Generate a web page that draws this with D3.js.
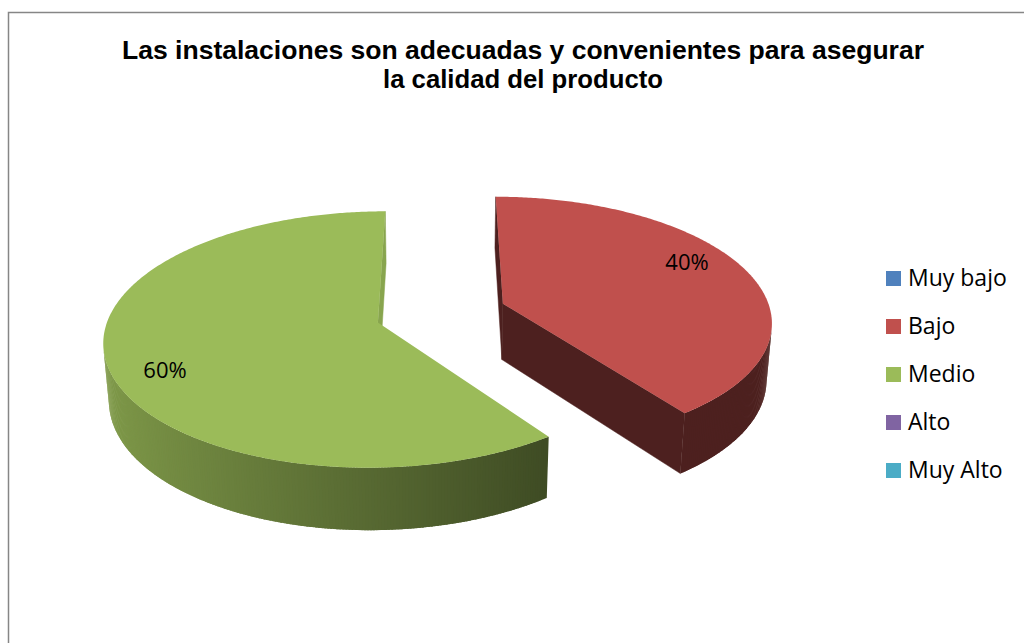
<!DOCTYPE html>
<html><head><meta charset="utf-8">
<script src="https://cdn.jsdelivr.net/npm/d3@7"></script>
<style>body{margin:0;background:#fff;} svg{display:block}</style>
</head><body><svg id="c" width="1024" height="643"></svg>
<script>
const titleLines = ["Las instalaciones son adecuadas y convenientes para asegurar", "la calidad del producto"];
const categories = ["Muy bajo", "Bajo", "Medio", "Alto", "Muy Alto"];
const values = [0, 40, 60, 0, 0];
const colors = ["#4f81bd", "#c0504d", "#9bbb59", "#8064a2", "#4bacc6"];

const svg = d3.select("#c");
svg.append("rect").attr("x", 8.5).attr("y", 12.5).attr("width", 1100).attr("height", 700)
  .attr("fill", "#fff").attr("stroke", "#868686").attr("stroke-width", 1.5);

// title
const titleW = [802, 280];
svg.selectAll("text.title").data(titleLines).enter().append("text")
  .attr("class", "title")
  .attr("x", 523).attr("y", (d, i) => 59 + i * 29)
  .attr("text-anchor", "middle")
  .attr("font-family", "'Liberation Sans', Arial, sans-serif")
  .attr("font-weight", "bold").attr("font-size", 26)
  .attr("textLength", (d, i) => titleW[i]).attr("lengthAdjust", "spacingAndGlyphs")
  .attr("fill", "#000").text(d => d);

// 3D projection
const theta = 27.4 * Math.PI / 180, Dist = 6.73, thick = 0.24, explode = 0.245;
const cam = [0, Dist * Math.sin(theta), Dist * Math.cos(theta)];
const f = 1805, cx = 441, cy = 313;
const xS = d3.scaleLinear().domain([0, 1]).range([cx, cx + f]);
const yS = d3.scaleLinear().domain([0, 1]).range([cy, cy - f]);
function proj(X, Y, Z) {
  const depth = Dist - Y * Math.sin(theta) - Z * Math.cos(theta);
  const up = Y * Math.cos(theta) - Z * Math.sin(theta);
  return [xS(X / depth), yS(up / depth)];
}
function shade(c, b) { const r = d3.rgb(c); return d3.rgb(r.r * b, r.g * b, r.b * b).formatHex(); }
const line = d3.line().curve(d3.curveLinearClosed);

const pie = d3.pie().sort(null).value(d => d);
const arcs = pie(values).map((a, i) => ({ ...a, i })).filter(a => a.value > 0);
arcs.forEach(a => {
  const m = (a.startAngle + a.endAngle) / 2;
  a.ox = explode * Math.sin(m); a.oz = -explode * Math.cos(m);
  a.depth = Dist - a.oz * Math.cos(theta);
});
arcs.sort((p, q) => q.depth - p.depth);

const g = svg.append("g");
arcs.forEach(a => {
  const col = colors[a.i];
  const rim = (phi, Y) => [a.ox + Math.sin(phi), Y, a.oz - Math.cos(phi)];
  const vis = (n, P) => n[0] * (cam[0] - P[0]) + n[1] * (cam[1] - P[1]) + n[2] * (cam[2] - P[2]) > 0;
  const sg = g.append("g");
  // radial faces
  [[a.startAngle, -1], [a.endAngle, 1]].forEach(([phi, s]) => {
    const n = [s * Math.cos(phi), 0, s * Math.sin(phi)];
    const P = [a.ox + 0.5 * Math.sin(phi), -thick / 2, a.oz - 0.5 * Math.cos(phi)];
    if (!vis(n, P)) return;
    const pts = [proj(a.ox, 0, a.oz), proj(...rim(phi, 0)), proj(...rim(phi, -thick)), proj(a.ox, -thick, a.oz)];
    const b = n[0] < 0 ? 0.40 : 0.88;
    sg.append("path").attr("d", line(pts)).attr("fill", shade(col, b)).attr("stroke", shade(col, b)).attr("stroke-width", 0.5);
  });
  // curved side
  const N = Math.ceil((a.endAngle - a.startAngle) / 0.01);
  const step = (a.endAngle - a.startAngle) / N;
  for (let k = 0; k < N; k++) {
    const p0 = a.startAngle + k * step, pm = p0 + step / 2;
    const p1 = Math.min(a.endAngle, p0 + step * 1.8);
    const n = [Math.sin(pm), 0, -Math.cos(pm)];
    if (!vis(n, rim(pm, -thick / 2))) continue;
    const pts = [proj(...rim(p0, 0)), proj(...rim(p1, 0)), proj(...rim(p1, -thick)), proj(...rim(p0, -thick))];
    const b = 0.40 + 0.43 * Math.max(0, Math.min(1, (0.6 - n[0]) / 1.6));
    sg.append("path").attr("d", line(pts)).attr("fill", shade(col, b));
  }
  // top face
  const top = [proj(a.ox, 0, a.oz)];
  for (let k = 0; k <= N; k++) top.push(proj(...rim(a.startAngle + k * step, 0)));
  sg.append("path").attr("d", line(top)).attr("fill", col);
  // label
  const m = (a.startAngle + a.endAngle) / 2 - 8 * Math.PI / 180, r = 0.82;
  const L = proj(a.ox + r * Math.sin(m), 0, a.oz - r * Math.cos(m));
  sg.append("text").attr("x", L[0]).attr("y", L[1] + 8).attr("text-anchor", "middle")
    .attr("font-family", "'Open Sans', sans-serif").attr("font-size", 22).attr("fill", "#000")
    .text(d3.format(".0%")(a.value / d3.sum(values)));
});

// legend
const lg = svg.append("g");
categories.forEach((c, i) => {
  lg.append("rect").attr("x", 886).attr("y", 271 + i * 48).attr("width", 15).attr("height", 15).attr("fill", colors[i]);
  lg.append("text").attr("x", 908).attr("y", 286 + i * 48)
    .attr("font-family", "'Open Sans', sans-serif").attr("font-size", 23).attr("fill", "#000").text(c);
});
</script></body></html>
